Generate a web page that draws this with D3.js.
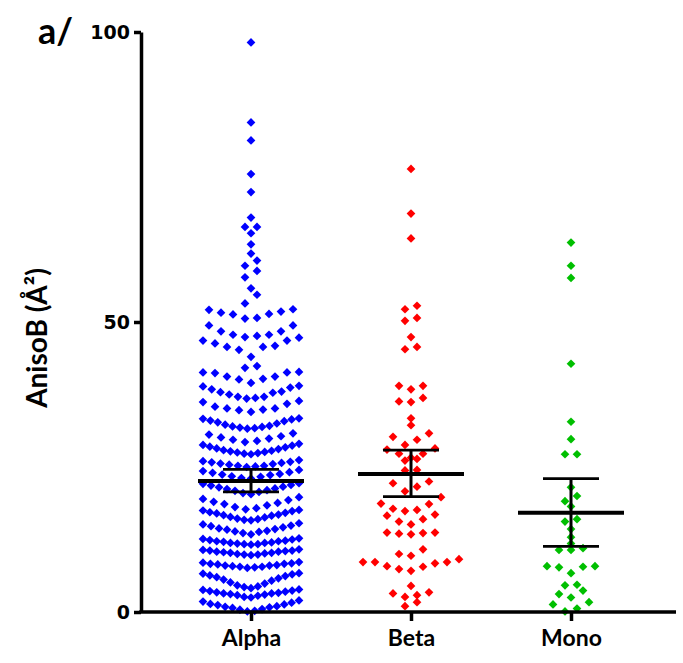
<!DOCTYPE html>
<html>
<head>
<meta charset="utf-8">
<script src="https://cdn.jsdelivr.net/npm/d3@7"></script>
<style>
body{margin:0;background:#fff}
</style>
</head>
<body>
<div class="chart"></div>
<script>
const categories = ["Alpha", "Beta", "Mono"]
const yTicks = [0, 50, 100]

const alphaValues = [
  0.1,0.2,0.4,0.5,0.7,0.8,0.9,1.0,1.2,1.3,1.4,1.6,1.8,2.0,
  2.5,2.6,2.8,2.9,3.0,3.1,3.2,3.2,3.3,3.4,3.5,3.6,3.7,3.8,3.9,
  4.1,4.3,4.4,4.6,4.9,5.1,5.4,5.6,5.8,6.0,6.2,6.3,6.5,6.6,6.7,
  7.6,7.7,7.8,7.8,7.9,8.0,8.0,8.1,8.2,8.3,8.3,8.4,8.5,8.6,
  9.8,9.9,9.9,10.0,10.1,10.2,10.2,10.3,10.4,10.4,10.5,10.6,10.6,10.7,10.8,
  11.6,11.7,11.7,11.8,11.9,11.9,12.0,12.1,12.2,12.2,12.3,12.4,12.5,12.6,12.7,
  13.4,13.6,13.8,13.9,14.0,14.2,14.3,14.4,14.6,14.8,14.9,15.1,15.3,
  15.8,15.9,16.0,16.1,16.3,16.4,16.6,16.7,16.8,17.0,17.1,17.2,17.4,17.5,17.6,
  17.7,17.9,18.1,18.4,18.6,18.8,19.0,19.3,19.5,19.8,
  20.3,20.5,20.7,20.9,21.0,21.2,21.3,21.5,21.6,21.8,21.9,22.1,22.2,
  23.0,23.1,23.3,23.4,23.6,23.7,23.8,24.0,24.1,24.3,24.5,
  25.0,25.1,25.2,25.2,25.4,25.5,25.6,25.7,25.8,25.9,26.0,26.2,
  27.2,27.3,27.4,27.5,27.6,27.7,27.8,27.9,28.1,28.2,28.4,28.5,28.7,28.8,29.0,
  29.3,29.5,29.7,29.9,30.1,30.3,30.6,30.8,
  31.6,31.7,31.8,31.9,32.0,32.1,32.3,32.5,32.7,32.9,33.0,33.2,33.3,33.4,
  34.5,34.8,34.9,35.1,35.1,35.4,35.9,36.2,36.4,
  36.8,36.9,37.1,37.1,37.5,37.8,37.9,38.0,38.4,38.7,38.9,39.0,
  39.5,40.1,40.2,40.6,40.6,41.2,41.3,41.3,41.4,
  42.1,42.4,
  44.0,45.2,45.7,45.7,45.9,46.3,46.8,46.8,47.3,
  47.4,47.6,47.8,47.8,48.4,48.4,49.4,49.4,
  50.6,50.7,51.3,51.4,51.6,51.8,52.1,52.2,
  53.2,54.7,55.8,57.7,58.8,59.7,60.6,61.8,63.4,65.3,66.4,66.4,68.0,72.4,75.5,81.3,84.4,98.2
]
const betaValues = [
  1.0,1.7, 2.6,2.9,3.2,3.4, 4.5,
  7.1,7.4,7.8,7.9,8.4,8.6,8.6,8.6,9.1, 9.7,10.0,10.8,
  13.4,13.5,13.6,13.7,13.7,
  15.1,15.6,16.0,16.6,16.8, 17.4,17.6,17.8,18.6,18.7,19.8,
  20.8,21.6,22.2,22.5, 24.4,24.5,
  26.1,26.4, 26.6,27.3,27.3,28.0,28.2,
  28.8,29.7,30.2,30.8, 32.2, 33.4,
  36.2,36.3,36.9, 38.4,39.0,39.0,
  45.3,45.7, 47.4, 50.2,50.7, 52.2,52.8,
  64.4, 68.7, 76.4
]
const monoValues = [
  0.1,0.6,1.3,1.7, 2.5,3.1,3.7, 4.6,4.7,
  6.7,7.7,7.8,7.9,7.9, 10.7,10.7,11.0, 11.8, 12.9, 14.3,
  15.6,16.0, 18.2, 19.1,20.0, 21.5, 27.2,27.2, 29.8, 32.8,
  42.8, 57.6, 59.7, 63.7
]

// row breaks of the swarm
const alphaRows = [2.2,4.0,7.2,9.3,11.2,13.0,15.5,17.65,20.2,22.6,24.8,27.0,29.1,31.3,34.0,36.6,39.2,41.8,43.5,47.35,50.0,53.0,55,57,59.3,61,63,65,66,67,70,74,78,83,90]
const betaRows = [2.2,4.0,6,9.4,12,14.5,17.0,20.3,23.5,25.5,26.5,28.5,31.5,33,35,37.5,40,44,46.5,49,51.5,54,60,66,72,80]
const monoRows = [2.2,4.0,6,9,11.5,12.5,13.5,15,17,19,20.5,24,28.5,31,35,40,45,55,58.5,62,66]

const means = [22.6, 23.8, 17.1]
const errLow = [20.7, 19.9, 11.3]
const errHigh = [24.6, 27.9, 23.0]

const width = 683, height = 663
const axisX = 141

const svg = d3.select(".chart").append("svg")
  .attr("width", width)
  .attr("height", height)

let yScale = d3.scaleLinear().domain([0, 100]).range([612, 32])
let xScale = d3.scalePoint().domain(categories).range([251, 571])
const color = d3.scaleOrdinal().domain(categories).range(["#0000ff", "#ff0000", "#00bf00"])

const groups = [
  {cat: "Alpha", values: alphaValues, rows: alphaRows},
  {cat: "Beta", values: betaValues, rows: betaRows},
  {cat: "Mono", values: monoValues, rows: monoRows}
]

// prism-like rows: lowest value in the middle, spreading outwards
function swarm(g) {
  let bins = d3.bin().domain([0, 100]).thresholds(g.rows)(g.values)
  let pts = []
  bins.forEach(b => {
    let n = b.length
    if (!n) return
    let s = n > 1 ? Math.min(12, 96 / (n - 1)) : 0
    let offs = d3.range(n).map(i => (i - (n - 1) / 2) * s)
      .sort((a, c) => Math.abs(a) - Math.abs(c) || a - c)
    b.slice().sort(d3.ascending).forEach((v, i) => {
      pts.push({cat: g.cat, value: v, dx: offs[i]})
    })
  })
  return pts
}

const points = groups.flatMap(swarm)

svg.selectAll(".dot")
  .data(points)
  .join("path")
  .attr("class", "dot")
  .attr("d", d3.symbol(d3.symbolSquare, 38))
  .attr("transform", d => `translate(${xScale(d.cat) + d.dx},${yScale(d.value)}) rotate(45)`)
  .attr("fill", d => color(d.cat))

// y axis
svg.append("g")
  .attr("transform", `translate(${axisX},0)`)
  .call(d3.axisLeft(yScale).tickValues(yTicks).tickSize(7).tickSizeOuter(0).tickPadding(4))
  .call(g => g.selectAll("path,line").attr("stroke", "#000").attr("stroke-width", 3.5))
  .call(g => g.selectAll("text")
    .attr("font-family", "DejaVu Sans")
    .attr("font-weight", "bold")
    .attr("font-size", 19)
    .attr("fill", "#000"))

// x axis
svg.append("line")
  .attr("x1", axisX - 1.75)
  .attr("x2", 676)
  .attr("y1", yScale(0))
  .attr("y2", yScale(0))
  .attr("stroke", "#000")
  .attr("stroke-width", 3.5)

svg.append("g")
  .attr("transform", `translate(0,${yScale(0)})`)
  .call(d3.axisBottom(xScale).tickSize(9).tickPadding(9))
  .call(g => g.select(".domain").remove())
  .call(g => g.selectAll("line").attr("stroke", "#000").attr("stroke-width", 3.5))
  .call(g => g.selectAll("text")
    .attr("font-family", "Lato")
    .attr("font-weight", "bold")
    .attr("font-size", 23)
    .attr("fill", "#000"))

// mean and error bars
const bars = svg.selectAll(".bar")
  .data(categories)
  .join("g")
  .attr("class", "bar")
  .attr("stroke", "#000")

bars.append("line")
  .attr("x1", d => xScale(d) - 53)
  .attr("x2", d => xScale(d) + 53)
  .attr("y1", (d, i) => yScale(means[i]))
  .attr("y2", (d, i) => yScale(means[i]))
  .attr("stroke-width", 4)

bars.append("line")
  .attr("x1", d => xScale(d))
  .attr("x2", d => xScale(d))
  .attr("y1", (d, i) => yScale(errLow[i]))
  .attr("y2", (d, i) => yScale(errHigh[i]))
  .attr("stroke-width", 3)

bars.selectAll(".cap")
  .data((d, i) => [{c: d, v: errLow[i]}, {c: d, v: errHigh[i]}])
  .join("line")
  .attr("class", "cap")
  .attr("x1", d => xScale(d.c) - 28)
  .attr("x2", d => xScale(d.c) + 28)
  .attr("y1", d => yScale(d.v))
  .attr("y2", d => yScale(d.v))
  .attr("stroke-width", 2.8)

svg.append("text")
  .attr("transform", "translate(47,338) rotate(-90)")
  .attr("text-anchor", "middle")
  .attr("font-family", "Lato")
  .attr("font-weight", "bold")
  .attr("font-size", 28)
  .text("AnisoB (Å²)")

svg.append("text")
  .attr("x", 38)
  .attr("y", 44)
  .attr("font-family", "Lato")
  .attr("font-weight", "bold")
  .attr("font-size", 36)
  .text("a/")
</script>
</body>
</html>
